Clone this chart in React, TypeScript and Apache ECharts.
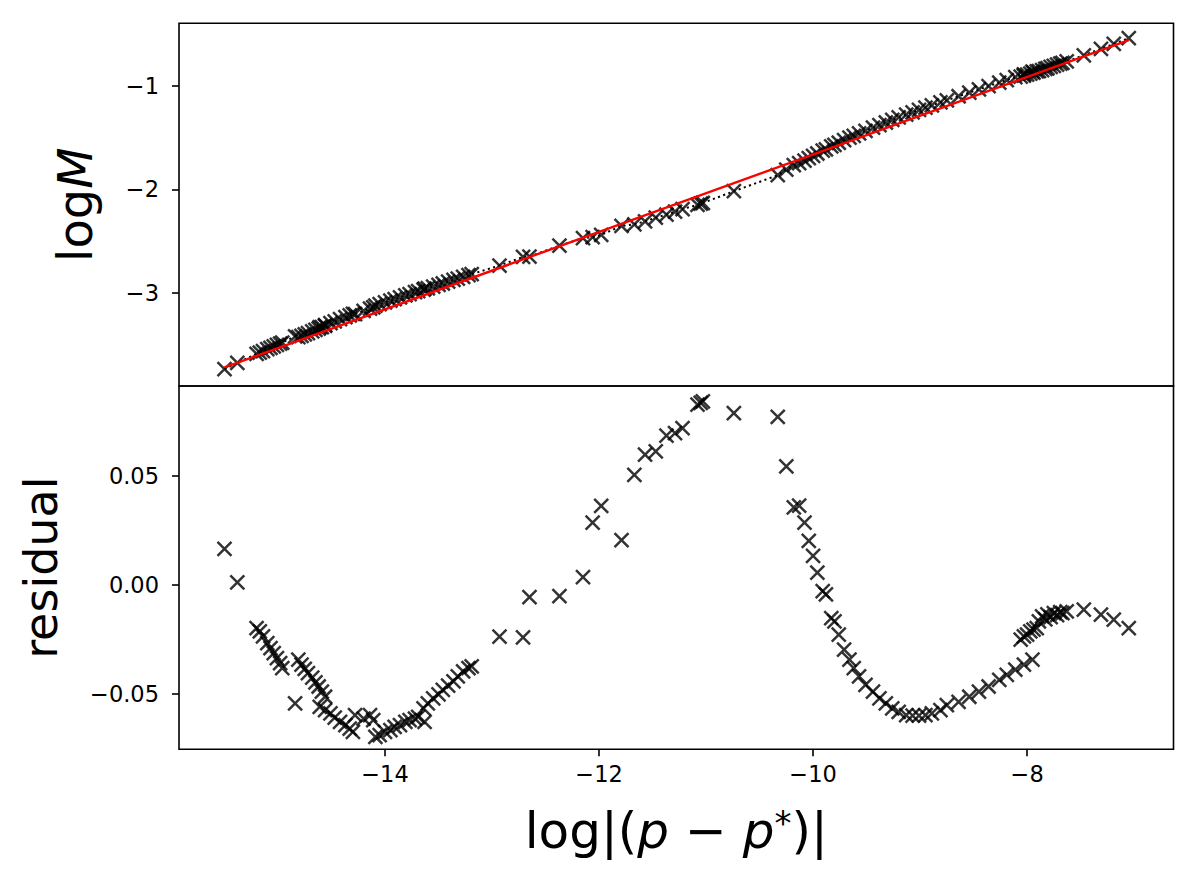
import React, { useEffect, useRef } from "react";
import * as echarts from "echarts";

// ---- data ----
const xs = [
  -15.50, -15.38,
  -15.20, -15.17, -15.14, -15.10, -15.07, -15.04, -15.01, -14.98, -14.96,
  -14.84,
  -14.81, -14.78, -14.75, -14.72, -14.68, -14.65, -14.62, -14.59, -14.56,
  -14.61, -14.56, -14.51, -14.47, -14.42, -14.37, -14.33, -14.30,
  -14.28, -14.20, -14.14, -14.11,
  -14.09, -14.05, -14.00, -13.95, -13.91, -13.86, -13.81, -13.77, -13.72, -13.69, -13.63,
  -13.64, -13.60, -13.55, -13.50, -13.46, -13.41, -13.36, -13.32, -13.27, -13.22, -13.19,
  -12.93, -12.71, -12.65, -12.37, -12.15, -12.06, -11.98, -11.79, -11.67, -11.57, -11.47,
  -11.37, -11.29, -11.22, -11.08, -11.05, -11.03,
  -10.74, -10.33, -10.25, -10.18, -10.13,
  -10.08, -10.04, -10.00, -9.96, -9.91, -9.88, -9.83, -9.80, -9.76, -9.71,
  -9.66, -9.62, -9.57, -9.51, -9.44, -9.38, -9.32, -9.26, -9.20, -9.13,
  -9.07, -9.01, -8.95, -8.89, -8.81, -8.75,
  -8.64, -8.54, -8.45, -8.36, -8.26, -8.19, -8.11, -8.03, -7.95,
  -8.06, -8.03, -8.00, -7.97, -7.94, -7.91,
  -7.89, -7.86, -7.83, -7.81, -7.78, -7.75, -7.72, -7.69, -7.67, -7.63,
  -7.47, -7.31, -7.19, -7.05,
];

const logM = [
  -3.740, -3.680,
  -3.591, -3.579, -3.565, -3.547, -3.533, -3.520, -3.506, -3.493, -3.483,
  -3.422,
  -3.431, -3.417, -3.404, -3.391, -3.374, -3.360, -3.347, -3.334, -3.320,
  -3.334, -3.314, -3.294, -3.277, -3.256, -3.236, -3.219, -3.206,
  -3.207, -3.175, -3.154, -3.141,
  -3.125, -3.111, -3.094, -3.076, -3.063, -3.045, -3.027, -3.013, -2.995, -2.985, -2.960,
  -2.970, -2.957, -2.941, -2.924, -2.911, -2.894, -2.877, -2.864, -2.848, -2.831, -2.820,
  -2.737, -2.654, -2.650, -2.545, -2.472, -2.463, -2.440, -2.354, -2.338, -2.310, -2.274,
  -2.244, -2.215, -2.191, -2.150, -2.139, -2.132,
  -2.018, -1.863, -1.810, -1.765, -1.747,
  -1.721, -1.697, -1.675, -1.653, -1.626, -1.613, -1.583, -1.570, -1.549, -1.524,
  -1.500, -1.482, -1.459, -1.433, -1.403, -1.378, -1.353, -1.328, -1.304, -1.276,
  -1.254, -1.231, -1.209, -1.187, -1.159, -1.139,
  -1.099, -1.064, -1.032, -1.001, -0.966, -0.942, -0.915, -0.887, -0.860,
  -0.910, -0.900, -0.890, -0.880, -0.870, -0.859,
  -0.855, -0.846, -0.833, -0.828, -0.815, -0.806, -0.794, -0.784, -0.776, -0.762,
  -0.703, -0.640, -0.593, -0.537,
];

const residuals = [
  0.0166, 0.0012,
  -0.0197, -0.0212, -0.0235, -0.0266, -0.0289, -0.0312, -0.0335, -0.0358, -0.0381,
  -0.0542,
  -0.0342, -0.0365, -0.0384, -0.0404, -0.0424, -0.0446, -0.0465, -0.0488, -0.0512,
  -0.0558, -0.0573, -0.0588, -0.0608, -0.0627, -0.0642, -0.0658, -0.0673,
  -0.0596, -0.0612, -0.0596, -0.0619,
  -0.0696, -0.0688, -0.0673, -0.0665, -0.0650, -0.0642, -0.0627, -0.0619, -0.0612, -0.0604, -0.0627,
  -0.0565, -0.0542, -0.0519, -0.0501, -0.0481, -0.0461, -0.0442, -0.0419, -0.0396, -0.0381, -0.0373,
  -0.0236, -0.0240, -0.0055, -0.0051, 0.0037, 0.0286, 0.0363, 0.0206, 0.0505, 0.0598, 0.0613,
  0.0685, 0.0697, 0.0720, 0.0828, 0.0836, 0.0843,
  0.0789, 0.0771, 0.0544, 0.0356, 0.0364,
  0.0287, 0.0203, 0.0134, 0.0057, -0.0028, -0.0043, -0.0151, -0.0166, -0.0227, -0.0296,
  -0.0342, -0.0381, -0.0419, -0.0458, -0.0488, -0.0519, -0.0542, -0.0565, -0.0581, -0.0596,
  -0.0599, -0.0599, -0.0596, -0.0588, -0.0573, -0.0550,
  -0.0535, -0.0512, -0.0488, -0.0465, -0.0435, -0.0412, -0.0388, -0.0365, -0.0342,
  -0.0250, -0.0235, -0.0227, -0.0212, -0.0204, -0.0197,
  -0.0166, -0.0143, -0.0157, -0.0134, -0.0147, -0.0129, -0.0138, -0.0124, -0.0129, -0.0120,
  -0.0112, -0.0135, -0.0158, -0.0197,
];

// linear fit (red line)
const fitSlope = 0.3748;
const fitIntercept = 2.086;

// axis ticks
const xTicks = [-14, -12, -10, -8];
const topYTicks = [-3, -2, -1];
const bottomYTicks = [-0.05, 0, 0.05];

const X_RANGE = [-15.925, -6.632];
const TOP_Y_RANGE = [-3.903, -0.393];
const BOTTOM_Y_RANGE = [-0.0753, 0.0913];

const FONT = "DejaVu Sans";
const X_SYMBOL = "path://M0,0L10,10M10,0L0,10";
const minus = (s: string) => s.replace("-", "\u2212");

export default function App() {
  const ref = useRef<HTMLDivElement>(null);

  useEffect(() => {
    if (!ref.current) return;
    const chart = echarts.init(ref.current, undefined, { renderer: "svg" });

    const xMin = Math.min(...xs);
    const xMax = Math.max(...xs);
    const fitData = [
      [xMin, fitIntercept + fitSlope * xMin],
      [xMax, fitIntercept + fitSlope * xMax],
    ];
    const topData = xs.map((x, i) => [x, logM[i]]);
    const botData = xs.map((x, i) => [x, residuals[i]]);

    const tickStyle = { color: "#000", width: 1.6 };
    const labelBase = { color: "#000", fontFamily: FONT, fontSize: 22.5 };
    const hiddenLine = { show: false, onZero: false };
    const markerStyle = { color: "transparent", borderColor: "#000", borderWidth: 2.5 };

    const option: any = {
      animation: false,
      backgroundColor: "#ffffff",
      grid: [
        {
          left: 179, right: 23.5, top: 23.3, height: 362.7,
          show: true, borderColor: "#000", borderWidth: 1.6, backgroundColor: "transparent",
        },
        {
          left: 179, right: 23.5, top: 386, height: 363.3,
          show: true, borderColor: "#000", borderWidth: 1.6, backgroundColor: "transparent",
        },
      ],
      xAxis: [
        {
          type: "value", gridIndex: 0, min: X_RANGE[0], max: X_RANGE[1],
          axisLine: hiddenLine, axisTick: { show: false },
          axisLabel: { show: false }, splitLine: { show: false },
        },
        {
          type: "value", gridIndex: 1, min: X_RANGE[0], max: X_RANGE[1], position: "bottom",
          axisLine: hiddenLine,
          axisTick: { show: true, inside: false, length: 7, lineStyle: tickStyle, customValues: xTicks },
          axisLabel: {
            ...labelBase, margin: 13, customValues: xTicks,
            formatter: (v: number) => minus(String(Math.round(v))),
          },
          splitLine: { show: false },
          name: "{n|log|(}{i|p}{n| \u2212 }{i|p}{s|*}{n|)|}",
          nameLocation: "middle",
          nameGap: 57,
          nameTextStyle: {
            color: "#000", fontFamily: FONT, fontSize: 50,
            rich: {
              n: { color: "#000", fontFamily: FONT, fontSize: 50 },
              i: { color: "#000", fontFamily: FONT, fontSize: 50, fontStyle: "italic" },
              s: { color: "#000", fontFamily: FONT, fontSize: 34, verticalAlign: "top" },
            },
          },
        },
      ],
      yAxis: [
        {
          type: "value", gridIndex: 0, min: TOP_Y_RANGE[0], max: TOP_Y_RANGE[1], position: "left",
          axisLine: hiddenLine,
          axisTick: { show: true, inside: false, length: 7, lineStyle: tickStyle, customValues: topYTicks },
          axisLabel: {
            ...labelBase, margin: 20, customValues: topYTicks,
            formatter: (v: number) => minus(String(Math.round(v))),
          },
          splitLine: { show: false },
          name: "{n|log}{i|M}",
          nameLocation: "middle",
          nameRotate: 90,
          nameGap: 80,
          nameTextStyle: {
            color: "#000", fontFamily: FONT, fontSize: 48,
            rich: {
              n: { color: "#000", fontFamily: FONT, fontSize: 48 },
              i: { color: "#000", fontFamily: FONT, fontSize: 48, fontStyle: "italic" },
            },
          },
        },
        {
          type: "value", gridIndex: 1, min: BOTTOM_Y_RANGE[0], max: BOTTOM_Y_RANGE[1], position: "left",
          axisLine: hiddenLine,
          axisTick: { show: true, inside: false, length: 7, lineStyle: tickStyle, customValues: bottomYTicks },
          axisLabel: {
            ...labelBase, margin: 20, customValues: bottomYTicks,
            formatter: (v: number) => minus(v.toFixed(2)),
          },
          splitLine: { show: false },
          name: "residual",
          nameLocation: "middle",
          nameRotate: 90,
          nameGap: 115,
          nameTextStyle: { color: "#000", fontFamily: FONT, fontSize: 46 },
        },
      ],
      series: [
        {
          type: "line", xAxisIndex: 0, yAxisIndex: 0, data: topData,
          showSymbol: false, symbol: "none",
          lineStyle: { color: "#000", width: 2, type: [2.1, 3.4] },
          z: 2, silent: true,
        },
        {
          type: "scatter", xAxisIndex: 0, yAxisIndex: 0, data: topData,
          symbol: X_SYMBOL, symbolSize: 14,
          itemStyle: markerStyle,
          z: 3, silent: true,
        },
        {
          type: "line", xAxisIndex: 0, yAxisIndex: 0, data: fitData,
          showSymbol: false, symbol: "none",
          lineStyle: { color: "#ff0000", width: 2.4 },
          z: 4, silent: true,
        },
        {
          type: "scatter", xAxisIndex: 1, yAxisIndex: 1, data: botData,
          symbol: X_SYMBOL, symbolSize: 14,
          itemStyle: markerStyle,
          z: 3, silent: true,
        },
      ],
    };

    chart.setOption(option);
    return () => chart.dispose();
  }, []);

  return (
    <div
      ref={ref}
      style={{ position: "absolute", left: 0, top: 0, width: 1197, height: 891, background: "#fff" }}
    />
  );
}
